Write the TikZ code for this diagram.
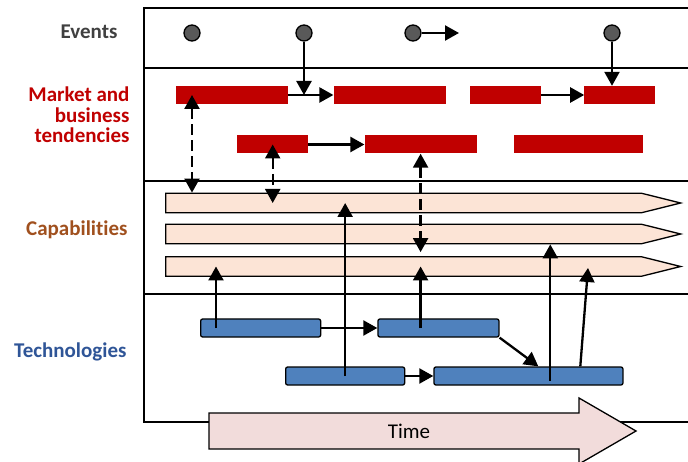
\documentclass[tikz,border=0pt]{standalone}
\usepackage{fontspec}
\setmainfont{Carlito}[Ligatures=NoCommon]
\usetikzlibrary{shapes.symbols,arrows.meta,positioning,calc}
\definecolor{evgray}{HTML}{595959}
\definecolor{evtext}{HTML}{404040}
\definecolor{mktred}{HTML}{C00000}
\definecolor{captext}{HTML}{A0501E}
\definecolor{capfill}{HTML}{FCE4D6}
\definecolor{techtext}{HTML}{2F5597}
\definecolor{techblue}{HTML}{4F81BD}
\definecolor{timefill}{HTML}{F2DCDB}

\begin{document}
\begin{tikzpicture}[x=1pt, y=-1pt,
  lanelabel/.style={font=\fontsize{21}{20.5}\selectfont\bfseries, align=right, anchor=east},
  event/.style={circle, draw, fill=evgray, minimum size=16pt, inner sep=0, line width=1.3pt},
  mkt/.style={fill=mktred, minimum width=#1, minimum height=18pt, inner sep=0, anchor=west},
  capbar/.style={signal, signal to=east, signal pointer angle=28, draw, fill=capfill, minimum width=515pt, minimum height=19.5pt, inner sep=0, line width=1.3pt, anchor=west},
  tech/.style={draw, fill=techblue, rounded corners=2pt, minimum width=#1, minimum height=18pt, inner sep=0, line width=1.3pt, anchor=west},
  lane/.style={line width=2pt},
  arr/.style={-{Triangle[length=14pt,width=15pt]}, line width=2.3pt},
  darr/.style={{Triangle[length=14pt,width=15pt]}-{Triangle[length=14pt,width=15pt]}, line width=2.3pt, dash pattern=on 11pt off 5pt}
]
\useasboundingbox (0,0) rectangle (688,462);

% swim lanes
\draw[lane] (688,8) -- (144,8) -- (144,422) -- (688,422);
\foreach \y in {68,181,294}
  \draw[lane] (144,\y) -- (688,\y);

\node[lanelabel, text=evtext] (lbev) at (121,32) {Events};
\node[lanelabel, text=mktred] (lbmkt) at (133,115) {Market and\\business\\tendencies};
\node[lanelabel, text=captext] (lbcap) at (131,230) {Capabilities};
\node[lanelabel, text=techtext] (lbtech) at (130,352) {Technologies};

% events
\node[event] (ev1) at (192,33) {};
\node[event] (ev2) at (304,33) {};
\node[event] (ev3) at (413,33) {};
\node[event] (ev4) at (612,33) {};
\coordinate (ev3end) at (459,33);

% market and business tendencies
\node[mkt=112pt] (mkt1) at (176,95) {};
\node[mkt=112pt, right=45pt of mkt1] (mkt2) {};
\node[mkt=71pt, right=24pt of mkt2] (mkt3) {};
\node[mkt=71pt, right=43pt of mkt3] (mkt4) {};
\node[mkt=71pt] (mkt5) at (237,144.5) {};
\node[mkt=112pt, right=56pt of mkt5] (mkt6) {};
\node[mkt=129pt, right=37pt of mkt6] (mkt7) {};

% capabilities
\node[capbar] (cap1) at (165,203) {};
\node[capbar] (cap2) at (165,234) {};
\node[capbar] (cap3) at (165,266.5) {};

% technologies
\node[tech=120pt] (tech1) at (200,328) {};
\node[tech=121pt, right=56pt of tech1] (tech2) {};
\node[tech=119pt] (tech3) at (285,376) {};
\node[tech=189pt, right=28pt of tech3] (tech4) {};

% time
\draw[line width=1.3pt, fill=timefill] (209,413) -- (579,413) -- (579,398) -- (636,431)
  -- (579,464) -- (579,449) -- (209,449) -- cycle;
\node[font=\fontsize{21}{21}\selectfont] (time) at (409,431) {Time};

% links
\draw[arr] (ev2) -- (ev2 |- mkt1);
\draw[arr] (ev3) -- (ev3end);
\draw[arr] (ev4) -- (ev4 |- mkt4.north);
\draw[arr] (mkt1) -- (mkt2);
\draw[arr] (mkt3) -- (mkt4);
\draw[arr] (mkt5) -- (mkt6);
\draw[darr] (mkt1 -| ev1) -- (cap1.north -| ev1);
\draw[darr] (mkt5.center) -- (mkt5 |- cap1);
\draw[darr, shorten >=4pt] (mkt6.south) -- (mkt6 |- cap3.north);

\coordinate (t1up) at ($(tech1.west)+(16,0)$);
\coordinate (t4a) at ($(tech4.south west)+(117,-5)$);
\coordinate (t4b) at ($(tech4.north west)+(147,0)$);
\coordinate (t4tip) at ($(cap3.west)+(423,1.5)$);
\draw[arr] (tech1) -- (tech2);
\draw[arr] (tech3) -- (tech4);
\draw[arr] (t1up) -- (t1up |- cap3);
\draw[arr] (tech2.center -| mkt6) -- (cap3 -| mkt6);
\draw[arr] (tech3.center) -- (tech3 |- cap1);
\draw[arr] (tech2.south east) -- ($(tech4.north west)+(105,0)$);
\draw[arr] (t4a) -- (t4a |- cap2.south);
\draw[arr] (t4b) -- (t4tip);
\end{tikzpicture}
\end{document}
